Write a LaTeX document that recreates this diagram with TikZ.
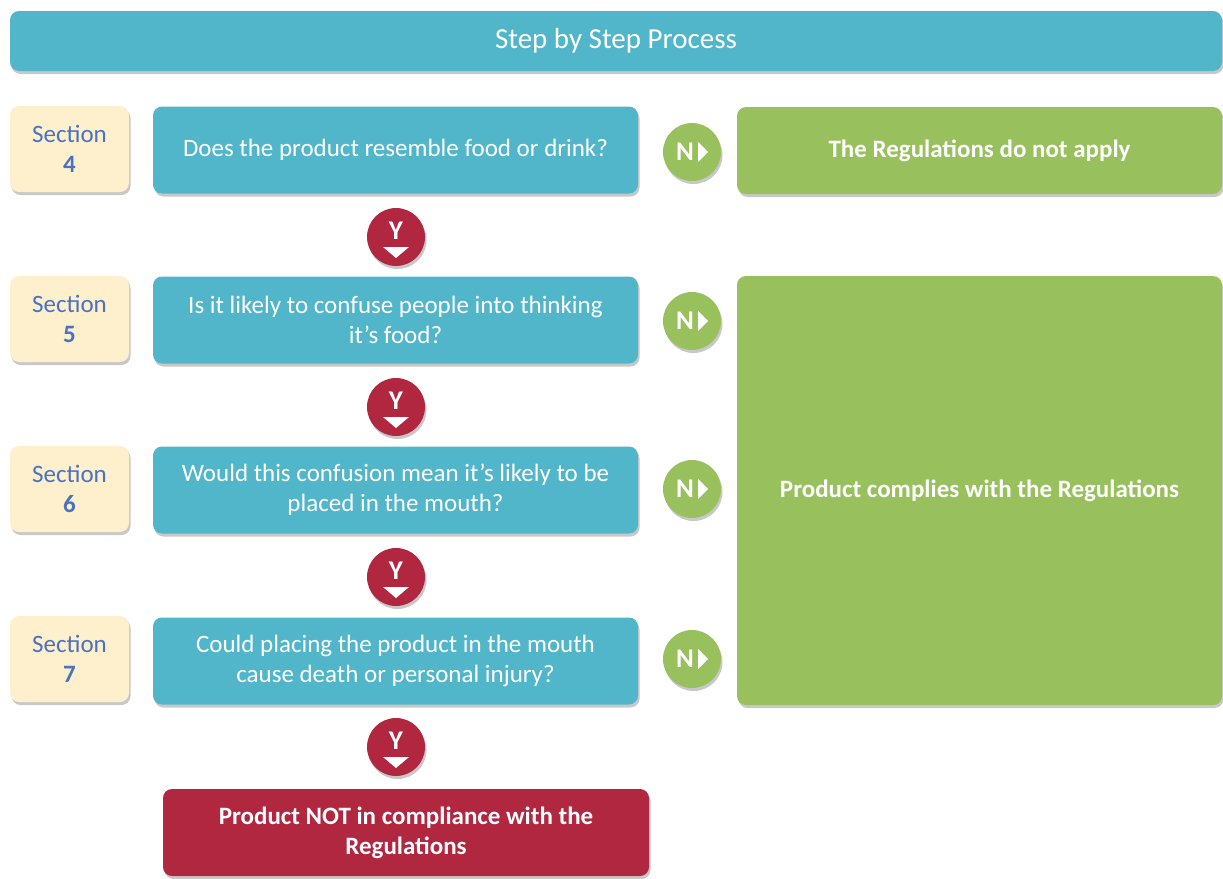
\documentclass[tikz,border=0pt]{standalone}
\usepackage{fontspec}
\setmainfont{Carlito}
\usetikzlibrary{shadows,calc}
\definecolor{teal}{HTML}{51B6CA}
\definecolor{grn}{HTML}{98C15D}
\definecolor{rd}{HTML}{B1273F}
\definecolor{cream}{HTML}{FFF0CD}
\definecolor{secblue}{HTML}{4A72C0}
\tikzset{
  shade/.style={drop shadow={shadow xshift=1.5pt,shadow yshift=-3pt,opacity=0.3,fill=black!70}},
  box/.style={rounded corners=9pt,inner sep=0pt,align=center,text=white,shade,font=\fontsize{25}{30}\selectfont},
  qbox/.style={box,fill=teal,minimum width=485pt,minimum height=87pt},
  secbox/.style={box,fill=cream,text=secblue,minimum width=119pt,minimum height=86pt},
  gbox/.style={box,fill=grn,font=\fontsize{25}{30}\selectfont\bfseries},
  ycirc/.style={circle,fill=rd,minimum size=58pt,inner sep=0pt,shade},
  ncirc/.style={circle,fill=grn,minimum size=58pt,inner sep=0pt,shade},
  lab/.style={text=white,font=\fontsize{27}{28}\selectfont\bfseries,inner sep=0pt}
}
\newcommand{\ymark}[2]{%
  \node[ycirc] (#1) at (#2) {};
  \node[lab] at ($(#1)+(0pt,6pt)$) {Y};
  \fill[white] ($(#1)+(-13pt,-10pt)$) -- ($(#1)+(13pt,-10pt)$) -- ($(#1)+(0pt,-21pt)$) -- cycle;}
\newcommand{\nmark}[2]{%
  \node[ncirc] (#1) at (#2) {};
  \node[lab] at ($(#1)+(-7pt,0pt)$) {N};
  \fill[white] ($(#1)+(6pt,-10pt)$) -- ($(#1)+(6pt,10pt)$) -- ($(#1)+(16pt,0pt)$) -- cycle;}
\begin{document}
\begin{tikzpicture}[x=1pt,y=-1pt]
\useasboundingbox[fill=white] (0,0) rectangle (1223,878);
\node[box,fill=teal,minimum width=1212pt,minimum height=60pt,font=\fontsize{29}{32}\selectfont] (head) at (616,41) {Step by Step Process};

\node[secbox] (s4) at (69.5,149) {Section\\\textbf{4}};
\node[secbox] (s5) at (69.5,319) {Section\\\textbf{5}};
\node[secbox] (s6) at (69.5,489) {Section\\\textbf{6}};
\node[secbox] (s7) at (69.5,659) {Section\\\textbf{7}};

\node[qbox] (q4) at (395.5,150) {Does the product resemble food or drink?};
\node[qbox] (q5) at (395.5,320) {Is it likely to confuse people into thinking\\it’s food?};
\node[qbox] (q6) at (395.5,490) {Would this confusion mean it’s likely to be\\placed in the mouth?};
\node[qbox] (q7) at (395.5,661) {Could placing the product in the mouth\\cause death or personal injury?};

\node[box,fill=rd,minimum width=486pt,minimum height=87pt,font=\fontsize{25}{30}\selectfont\bfseries] (nc) at (406,832.5) {Product NOT in compliance with the\\Regulations};

\node[gbox,minimum width=485pt,minimum height=87pt] (na) at (979.5,150.5) {The Regulations do not apply};
\node[gbox,minimum width=485pt,minimum height=429pt] (ok) at (979.5,490.5) {Product complies with the Regulations};

\ymark{y4}{396,237}
\ymark{y5}{396,407}
\ymark{y6}{396,577}
\ymark{y7}{396,747}

\nmark{n4}{692,152}
\nmark{n5}{692,321}
\nmark{n6}{692,489}
\nmark{n7}{692,659}
\end{tikzpicture}
\end{document}
